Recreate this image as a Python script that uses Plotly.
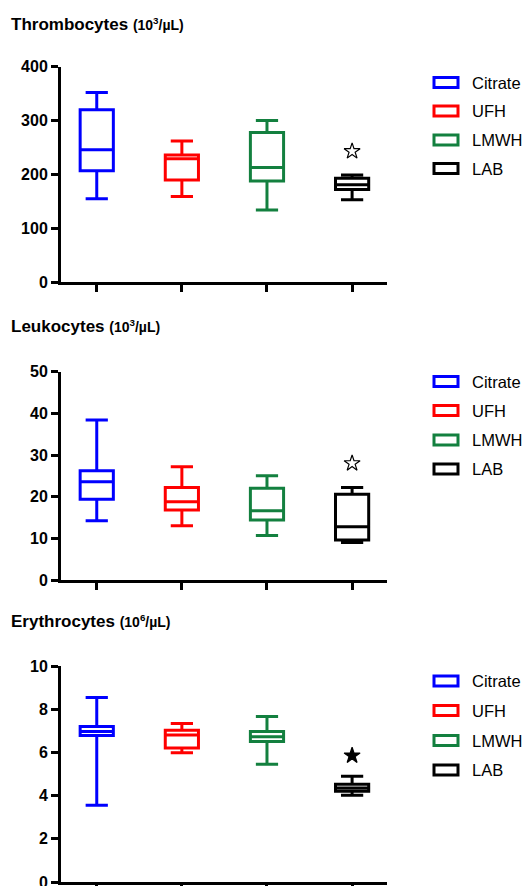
import plotly.graph_objects as go

W, H = 526, 886

groups = ["Citrate", "UFH", "LMWH", "LAB"]
colors = ["#0000ff", "#ff0000", "#13803f", "#000000"]

# Thrombocytes (10^3/µL)
thr_upper = [352, 262, 300, 199]
thr_q3 = [320, 236, 278, 193]
thr_median = [246, 229, 213, 181]
thr_q1 = [207, 190, 188, 172]
thr_lower = [155, 159, 134, 153]
thr_star = 243

# Leukocytes (10^3/µL)
leu_upper = [38.4, 27.2, 25.0, 22.2]
leu_q3 = [26.2, 22.2, 22.0, 20.6]
leu_median = [23.6, 18.8, 16.6, 12.8]
leu_q1 = [19.4, 16.8, 14.4, 9.6]
leu_lower = [14.2, 13.0, 10.7, 9.0]
leu_star = 28

# Erythrocytes (10^6/µL)
ery_upper = [8.54, 7.34, 7.66, 4.9]
ery_q3 = [7.2, 7.02, 6.97, 4.52]
ery_median = [6.97, 6.8, 6.73, 4.35]
ery_q1 = [6.78, 6.2, 6.5, 4.2]
ery_lower = [3.55, 5.98, 5.45, 4.02]
ery_star = 5.85

panels = [
    dict(title="Thrombocytes", unit="(10<sup>3</sup>/µL)", upper=thr_upper, q3=thr_q3,
         median=thr_median, q1=thr_q1, lower=thr_lower, star=thr_star, star_sym="star-open",
         yrange=[0, 400], dtick=100, top=66.7, bottom=282.3, title_y=24, leg_y=[82.5, 111, 140, 168.5]),
    dict(title="Leukocytes", unit="(10<sup>3</sup>/µL)", upper=leu_upper, q3=leu_q3,
         median=leu_median, q1=leu_q1, lower=leu_lower, star=leu_star, star_sym="star-open",
         yrange=[0, 50], dtick=10, top=371.7, bottom=580, title_y=327, leg_y=[381.5, 410.5, 440, 469]),
    dict(title="Erythrocytes", unit="(10<sup>6</sup>/µL)", upper=ery_upper, q3=ery_q3,
         median=ery_median, q1=ery_q1, lower=ery_lower, star=ery_star, star_sym="star",
         yrange=[0, 10], dtick=2, top=666, bottom=882, title_y=621, leg_y=[681, 710.5, 740.5, 770]),
]

FONT = "Liberation Sans, Arial, sans-serif"

def px(x):
    return x / W

def py(y):
    return 1 - y / H

fig = go.Figure()
layout = dict(
    width=W, height=H, margin=dict(l=0, r=0, t=0, b=0, autoexpand=False),
    paper_bgcolor="white", plot_bgcolor="white", showlegend=False,
    font=dict(family=FONT, color="black"),
)
shapes = []
annotations = []

for i, p in enumerate(panels):
    n = i + 1
    xa = "x" if n == 1 else f"x{n}"
    ya = "y" if n == 1 else f"y{n}"
    for g, c, up, q3, med, q1, lo in zip(groups, colors, p["upper"], p["q3"], p["median"], p["q1"], p["lower"]):
        fig.add_trace(go.Box(
            x=[g], q1=[q1], median=[med], q3=[q3], lowerfence=[lo], upperfence=[up],
            name=g, width=0.39, whiskerwidth=0.67, boxpoints=False,
            line=dict(color=c, width=3), fillcolor="rgba(255,255,255,0)",
            xaxis=xa, yaxis=ya, hoverinfo="skip",
        ))
    fig.add_trace(go.Scatter(
        x=["LAB"], y=[p["star"]], mode="markers",
        marker=dict(symbol=p["star_sym"], size=12, color="black", line=dict(color="black", width=1.2)),
        xaxis=xa, yaxis=ya, hoverinfo="skip",
    ))
    key = "" if n == 1 else str(n)
    layout["xaxis" + key] = dict(
        domain=[px(61), px(387)], anchor=ya, type="category", categoryarray=groups,
        range=[-0.42, 3.41], showticklabels=False, ticks="outside", ticklen=7, tickwidth=3,
        tickcolor="black", showline=True, linecolor="black", linewidth=3, showgrid=False,
        zeroline=False, fixedrange=True, automargin=False,
    )
    layout["yaxis" + key] = dict(
        domain=[py(p["bottom"]), py(p["top"])], anchor=xa, range=p["yrange"], dtick=p["dtick"],
        ticks="outside", ticklen=7, tickwidth=3, tickcolor="black", showline=True,
        linecolor="black", linewidth=3, showgrid=False, zeroline=False, automargin=False,
        ticklabeloverflow="allow",
        tickfont=dict(family=FONT, size=16, color="black", weight="bold"), fixedrange=True,
    )
    annotations.append(dict(
        xref="paper", yref="paper", x=px(9), y=py(p["title_y"]), xanchor="left", yanchor="middle",
        showarrow=False,
        text=f"<b>{p['title']}</b> <b><span style='font-size:14px'>{p['unit']}</span></b>",
        font=dict(family=FONT, size=17, color="black"),
    ))
    for g, c, ly in zip(groups, colors, p["leg_y"]):
        shapes.append(dict(
            type="rect", xref="paper", yref="paper", x0=px(434), x1=px(458),
            y0=py(ly + 5), y1=py(ly - 5), line=dict(color=c, width=3), fillcolor="white",
        ))
        annotations.append(dict(
            xref="paper", yref="paper", x=px(470), y=py(ly), xanchor="left", yanchor="middle",
            showarrow=False, text=g, font=dict(family=FONT, size=16.5, color="black"),
        ))

layout["shapes"] = shapes
layout["annotations"] = annotations
fig.update_layout(**layout)
fig.write_html(
    "out.html",
    config={"displayModeBar": False},
    post_script="document.body.style.margin='0';document.body.style.overflow='hidden';",
)
